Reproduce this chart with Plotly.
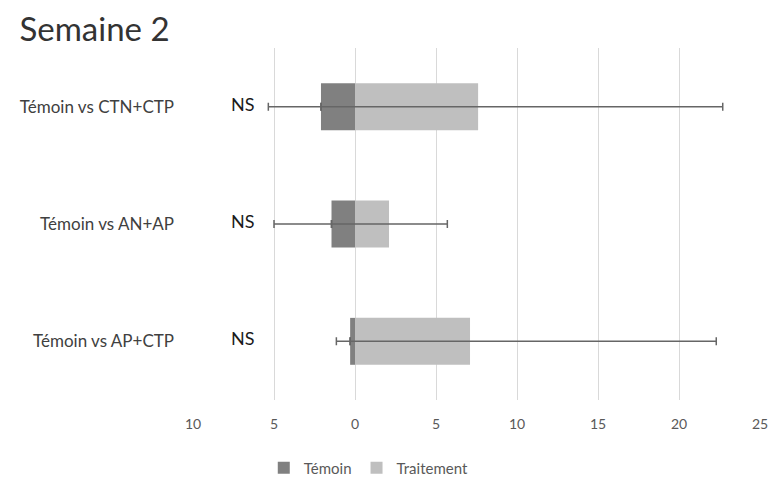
import plotly.graph_objects as go

# Comparisons shown on the y axis (top to bottom)
categories = ["Témoin vs CTN+CTP", "Témoin vs AN+AP", "Témoin vs AP+CTP"]

# Mean values (Témoin drawn to the left as negative values)
temoin = [-2.1, -1.45, -0.3]
traitement = [7.6, 2.1, 7.1]

# Error-bar lengths: Témoin extends left, Traitement extends right
temoin_err = [3.25, 3.55, 0.85]
traitement_err = [15.1, 3.6, 15.2]

significance = ["NS", "NS", "NS"]

tick_vals = [-10, -5, 0, 5, 10, 15, 20, 25]
tick_text = ["10", "5", "0", "5", "10", "15", "20", "25"]

FONT = "Lato"
err_color = "#666666"

fig = go.Figure()

fig.add_trace(go.Bar(
    y=categories, x=temoin, orientation="h", name="Témoin",
    marker=dict(color="#808080", line=dict(width=0)),
    width=0.4,
    error_x=dict(type="data", symmetric=False,
                 array=[0] * len(temoin), arrayminus=temoin_err,
                 color=err_color, thickness=1.5, width=4),
))

fig.add_trace(go.Bar(
    y=categories, x=traitement, orientation="h", name="Traitement",
    marker=dict(color="#bfbfbf", line=dict(width=0)),
    width=0.4,
    error_x=dict(type="data", symmetric=False,
                 array=traitement_err,
                 arrayminus=[t - c for t, c in zip(traitement, temoin)],
                 color=err_color, thickness=1.5, width=4),
))

for cat, s in zip(categories, significance):
    fig.add_annotation(
        x=-6.9, y=cat, xref="x", yref="y", text=s, showarrow=False,
        yshift=3, font=dict(family=FONT, size=18, color="#1a1a1a"),
    )

fig.update_layout(
    width=778, height=483,
    margin=dict(l=193, r=18, t=48, b=83, autoexpand=False),
    paper_bgcolor="white", plot_bgcolor="white",
    barmode="relative",
    title=dict(text="Semaine 2", x=0.025, xanchor="left",
               y=(483 - 29) / 483, yanchor="middle",
               font=dict(family=FONT, size=33, color="#333333")),
    showlegend=True,
    legend=dict(orientation="h", x=0.31, xanchor="center",
                yref="container", y=(483 - 468) / 483, yanchor="middle",
                font=dict(family=FONT, size=15, color="#595959"),
                itemwidth=30, traceorder="normal"),
    xaxis=dict(range=[-10, 25], tickvals=tick_vals, ticktext=tick_text,
               showgrid=True, gridcolor="#d9d9d9", gridwidth=1.2,
               zeroline=False, showline=False, ticks="",
               tickfont=dict(family=FONT, size=14, color="#595959"),
               ticklabelstandoff=14, fixedrange=True),
    yaxis=dict(categoryorder="array", categoryarray=categories, autorange="reversed",
               showgrid=False, zeroline=False, showline=False, ticks="",
               tickfont=dict(family=FONT, size=17, color="#404040"),
               ticklabelstandoff=18, fixedrange=True),
)

fig.write_html("out.html")
